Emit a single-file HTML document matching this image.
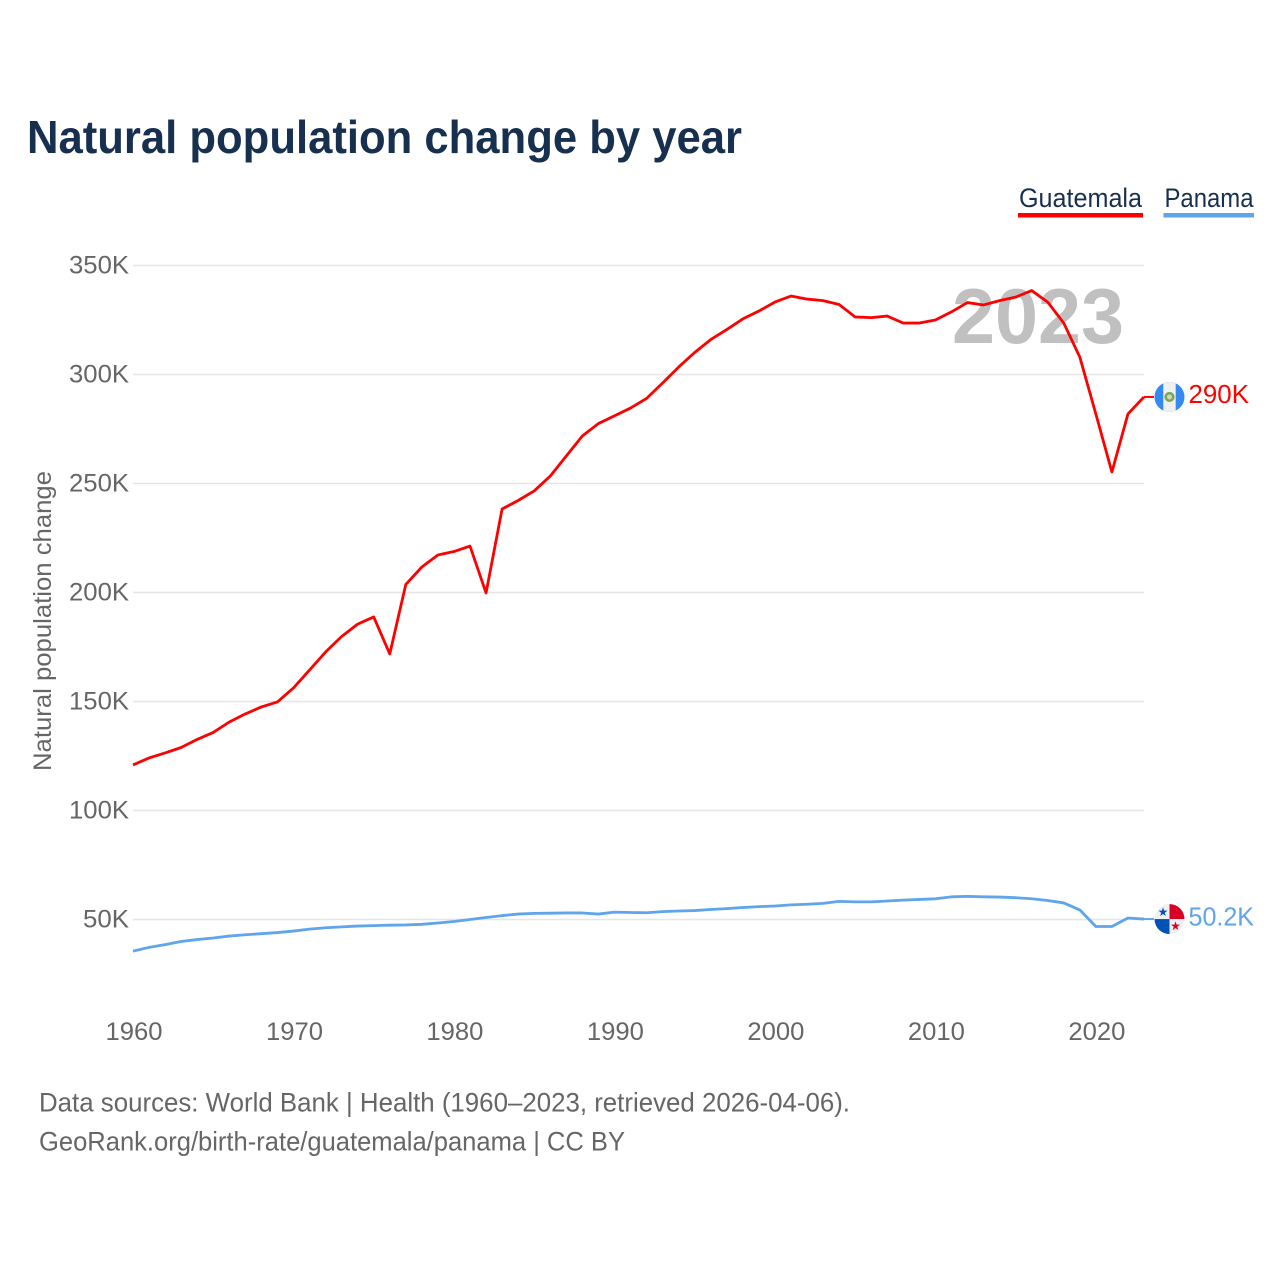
<!DOCTYPE html>
<html>
<head>
<meta charset="utf-8">
<style>
html,body{margin:0;padding:0;background:#fff;width:1280px;height:1280px;overflow:hidden}
svg{display:block}
text{font-family:"Liberation Sans",sans-serif}
</style>
</head>
<body>
<svg id="chart" xmlns="http://www.w3.org/2000/svg" width="1280" height="1280" viewBox="0 0 1280 1280">
  <rect x="0" y="0" width="1280" height="1280" fill="#fff"/>
  <text x="27" y="153" font-size="46" font-weight="700" fill="#18304f" textLength="715" lengthAdjust="spacingAndGlyphs">Natural population change by year</text>
  <g>
    <text x="1019" y="207" font-size="27" fill="#18304f" textLength="123" lengthAdjust="spacingAndGlyphs">Guatemala</text>
    <rect x="1018" y="213" width="125" height="4.5" fill="#ff0000"/>
  </g>
  <g>
    <text x="1164.5" y="207" font-size="27" fill="#18304f" textLength="89" lengthAdjust="spacingAndGlyphs">Panama</text>
    <rect x="1163.5" y="213" width="90.5" height="4.5" fill="#5ea5ec"/>
  </g>
  <g id="grid"></g>
  <g id="yaxis"></g>
  <g id="xaxis"></g>
  <text transform="translate(51,621) rotate(-90)" text-anchor="middle" font-size="25" fill="#666" textLength="300" lengthAdjust="spacingAndGlyphs">Natural population change</text>
  <text x="952" y="343" font-size="78" font-weight="700" fill="#c0c0c0" textLength="172" lengthAdjust="spacingAndGlyphs">2023</text>
  <g id="series"></g>
  <g id="endmarks"></g>
  <defs>
    <clipPath id="clip-gt"><circle id="clip-gt-c" cx="1169.5" cy="396.5" r="15"/></clipPath>
    <clipPath id="clip-pa"><circle id="clip-pa-c" cx="1169.5" cy="919" r="15"/></clipPath>
  </defs>
  <text x="39" y="1111.5" font-size="27" fill="#666" textLength="811" lengthAdjust="spacingAndGlyphs">Data sources: World Bank | Health (1960–2023, retrieved 2026-04-06).</text>
  <text x="39" y="1150.5" font-size="27" fill="#666" textLength="586" lengthAdjust="spacingAndGlyphs">GeoRank.org/birth-rate/guatemala/panama | CC BY</text>
</svg>
<script>
const years = [1960,1961,1962,1963,1964,1965,1966,1967,1968,1969,1970,1971,1972,1973,1974,1975,1976,1977,1978,1979,1980,1981,1982,1983,1984,1985,1986,1987,1988,1989,1990,1991,1992,1993,1994,1995,1996,1997,1998,1999,2000,2001,2002,2003,2004,2005,2006,2007,2008,2009,2010,2011,2012,2013,2014,2015,2016,2017,2018,2019,2020,2021,2022,2023];
const guatemala = [120.9,124.1,126.4,128.9,132.6,135.8,140.6,144.3,147.5,149.8,156.2,164.4,172.7,179.8,185.5,188.8,171.8,203.7,211.7,217.2,218.8,221.3,199.8,238.3,242.2,246.6,253.4,262.6,271.8,277.5,281,284.6,289,296.1,303.4,310.1,316,320.6,325.5,329.1,333.2,336,334.6,333.9,332.1,326.4,326.1,326.8,323.6,323.6,325,328.7,333,331.9,333.9,335.5,338.5,333.2,323.6,308,281.9,255.3,281.9,289.7];
const panama = [35.5,37.2,38.5,39.9,40.8,41.5,42.4,43.0,43.5,44.0,44.7,45.6,46.2,46.6,47.0,47.2,47.4,47.5,47.8,48.4,49.1,50,50.9,51.8,52.5,52.8,52.9,53,53,52.5,53.4,53.2,53.1,53.6,53.9,54.1,54.6,55.0,55.5,55.9,56.2,56.7,57.0,57.4,58.3,58.1,58.1,58.5,58.9,59.2,59.5,60.4,60.6,60.4,60.3,60.0,59.5,58.7,57.6,54.4,46.8,46.8,50.7,50.2];
const yTickValues = [50,100,150,200,250,300,350];
const yTickLabels = ["50K","100K","150K","200K","250K","300K","350K"];
const xTickValues = [1960,1970,1980,1990,2000,2010,2020];
const endLabels = ["290K","50.2K"];

const NS = 'http://www.w3.org/2000/svg';
function xScale(year){ return 133 + (year - 1960) * (1144 - 133) / 63; }
function yScale(v){ return 919.5 - (v - 50) * 109 / 50; }
function make(tag, attrs, parent){
  const el = document.createElementNS(NS, tag);
  for (const k in attrs) el.setAttribute(k, attrs[k]);
  parent.appendChild(el);
  return el;
}
const grid = document.getElementById('grid');
const yaxis = document.getElementById('yaxis');
const xaxis = document.getElementById('xaxis');
const series = document.getElementById('series');
const endmarks = document.getElementById('endmarks');

yTickValues.forEach(function(v, i){
  const y = yScale(v);
  const line = make('line', {x1:133, x2:1144, y1:y, y2:y, stroke:'#e6e6e6', 'stroke-width':1.5}, grid);
  
  
  const t = make('text', {x:129, y:y + 8, 'text-anchor':'end', 'font-size':25, fill:'#666'}, yaxis);
  
  
  t.textContent = yTickLabels[i];
  t.setAttribute('textLength', yTickLabels[i].length === 3 ? 46 : 60);
  t.setAttribute('lengthAdjust', 'spacingAndGlyphs');
});
xTickValues.forEach(function(v){
  const t = make('text', {x:xScale(v) + 1, y:1040, 'text-anchor':'middle', 'font-size':25, fill:'#666'}, xaxis);
  
  
  t.textContent = String(v);
  t.setAttribute('textLength', 57);
  t.setAttribute('lengthAdjust', 'spacingAndGlyphs');
});
function linePoints(vals){
  return vals.map(function(v, i){ return xScale(years[i]).toFixed(2) + ',' + yScale(v).toFixed(2); }).join(' ');
}
const lineP = make('polyline', {points:linePoints(panama), fill:'none', stroke:'#5ea5ec', 'stroke-width':2.8, 'stroke-linejoin':'round'}, series);


const lineG = make('polyline', {points:linePoints(guatemala), fill:'none', stroke:'#ff0000', 'stroke-width':2.8, 'stroke-linejoin':'round'}, series);



// end connectors, flags and labels follow the final data value
const lastX = xScale(years[years.length - 1]);
const gY = yScale(guatemala[guatemala.length - 1]);
const pY = yScale(panama[panama.length - 1]);
const conG = make('line', {x1:lastX, x2:1154, y1:gY, y2:gY, stroke:'#ff0000', 'stroke-width':2}, endmarks);


const conP = make('line', {x1:lastX, x2:1154, y1:pY, y2:pY, stroke:'#5ea5ec', 'stroke-width':2}, endmarks);



document.getElementById('clip-gt-c').setAttribute('cy', gY);
document.getElementById('clip-pa-c').setAttribute('cy', pY);

const flagG = make('g', {'clip-path':'url(#clip-gt)'}, endmarks);


make('rect', {x:1154, y:gY - 16, width:32, height:32, fill:'#338af3'}, flagG);
make('rect', {x:1163.3, y:gY - 16, width:12.4, height:32, fill:'#f0f0f0'}, flagG);
make('circle', {cx:1169.5, cy:gY, r:3.8, fill:'#cfd8c0', stroke:'#7fa650', 'stroke-width':2.6}, flagG);

const flagP = make('g', {'clip-path':'url(#clip-pa)'}, endmarks);


make('rect', {x:1154, y:pY - 16, width:32, height:32, fill:'#f0f0f0'}, flagP);
make('rect', {x:1169.5, y:pY - 16, width:16, height:16, fill:'#d80027'}, flagP);
make('rect', {x:1154, y:pY, width:15.5, height:16, fill:'#0052b4'}, flagP);
const star1 = make('text', {x:1163, y:pY - 3, 'text-anchor':'middle', 'font-size':12, fill:'#0052b4'}, flagP);


star1.textContent = '★';
const star2 = make('text', {x:1175.5, y:pY + 11, 'text-anchor':'middle', 'font-size':12, fill:'#d80027'}, flagP);


star2.textContent = '★';

const labG = make('text', {x:1188.5, y:gY + 6, 'font-size':26, fill:'#ff0000', textLength:60.5, lengthAdjust:'spacingAndGlyphs'}, endmarks);


labG.textContent = endLabels[0];
const labP = make('text', {x:1188.5, y:pY + 6.5, 'font-size':26, fill:'#5ea5ec', textLength:65.5, lengthAdjust:'spacingAndGlyphs'}, endmarks);


labP.textContent = endLabels[1];
</script>
</body>
</html>
